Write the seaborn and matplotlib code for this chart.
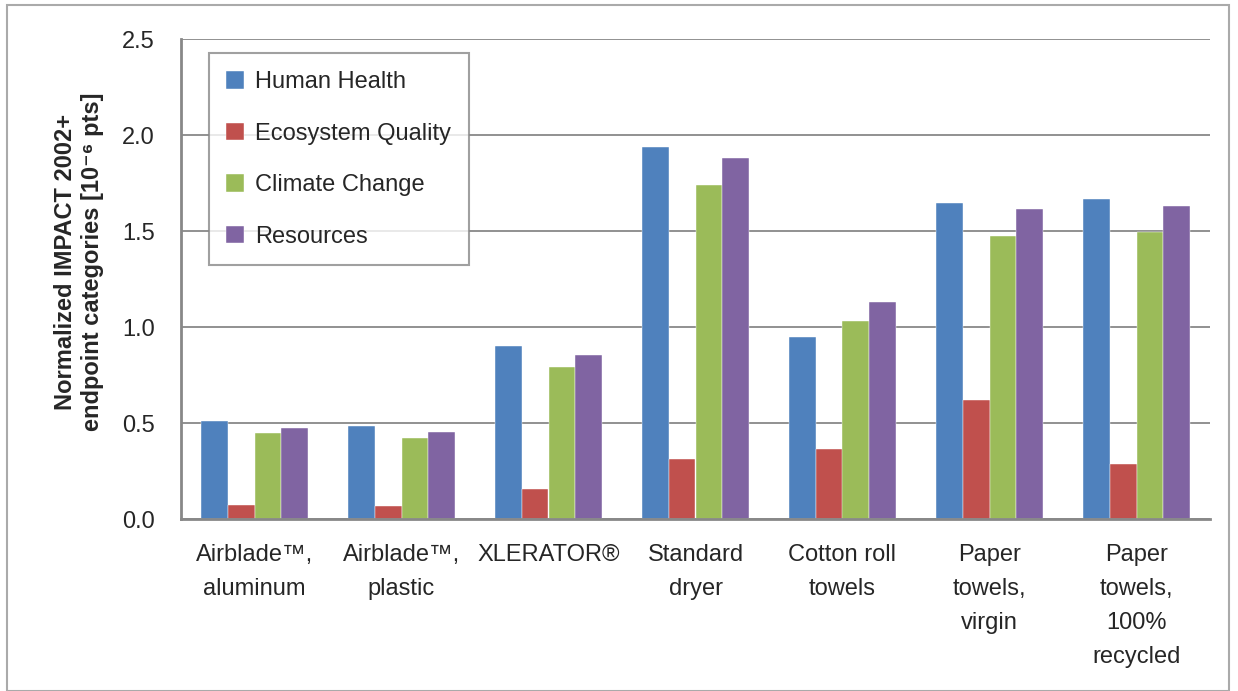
import pandas as pd
import matplotlib.pyplot as plt
import seaborn as sns
from matplotlib.patches import Rectangle

# values
products = ["Airblade\u2122,\naluminum", "Airblade\u2122,\nplastic", "XLERATOR\u00ae",
            "Standard\ndryer", "Cotton roll\ntowels", "Paper\ntowels,\nvirgin",
            "Paper\ntowels,\n100%\nrecycled"]
categories = ["Human Health", "Ecosystem Quality", "Climate Change", "Resources"]
human_health = [0.51, 0.485, 0.90, 1.94, 0.948, 1.645, 1.667]
ecosystem_quality = [0.073, 0.068, 0.156, 0.31, 0.365, 0.62, 0.286]
climate_change = [0.448, 0.42, 0.79, 1.74, 1.03, 1.474, 1.495]
resources = [0.474, 0.453, 0.854, 1.88, 1.13, 1.615, 1.63]
colors = ["#4F81BD", "#C0504D", "#9BBB59", "#8064A2"]

rows = []
for cat, vals in zip(categories, [human_health, ecosystem_quality, climate_change, resources]):
    for prod, v in zip(products, vals):
        rows.append({"product": prod, "category": cat, "value": v})
df = pd.DataFrame(rows)

sns.set_style("white")
plt.rcParams['font.family'] = ['Liberation Sans', 'DejaVu Sans']

fig = plt.figure(figsize=(12.38, 6.91), dpi=100)
ax = fig.add_axes([181 / 1238, 1 - 519 / 691, (1210 - 181) / 1238, (519 - 39) / 691])

sns.barplot(data=df, x="product", y="value", hue="category", order=products,
            hue_order=categories, palette=colors, width=0.73, gap=0,
            saturation=1, edgecolor="white", linewidth=0.3, ax=ax)

ax.set_ylim(0, 2.5)
ax.set_xlim(-0.5, len(products) - 0.5)
ax.set_yticks([0, 0.5, 1.0, 1.5, 2.0, 2.5])
ax.set_yticklabels(["0.0", "0.5", "1.0", "1.5", "2.0", "2.5"], fontsize=17)
ax.yaxis.grid(True, color="#888888", linewidth=1.3)
ax.set_axisbelow(True)
ax.tick_params(axis="y", length=0, pad=19)
ax.tick_params(axis="x", length=0, labelsize=17, pad=18)
for lbl in ax.get_xticklabels():
    lbl.set_linespacing(1.7)
    lbl.set_verticalalignment("top")

# category separators on the x axis
ax.set_xticks([i + 0.5 for i in range(-1, len(products))], minor=True)
ax.tick_params(axis="x", which="minor", direction="in", length=6, width=1.5, color="#888888")

for side in ["top", "right"]:
    ax.spines[side].set_visible(False)
for side in ["left", "bottom"]:
    ax.spines[side].set_color("#888888")
    ax.spines[side].set_linewidth(2)

ax.set_xlabel("")
ax.set_ylabel("Normalized IMPACT 2002+\nendpoint categories [10\u207b\u2076 pts]",
              fontsize=17, fontweight="bold", linespacing=1.2)
ax.yaxis.set_label_coords(-0.075, 0.535)

leg = ax.legend(loc="upper left", bbox_to_anchor=(0.027, 0.97), fontsize=17,
                frameon=True, fancybox=False, edgecolor="#888888",
                handlelength=0.75, handleheight=0.75, handletextpad=0.45,
                labelspacing=1.25, borderpad=0.75, borderaxespad=0)
leg.get_frame().set_linewidth(1.5)

fig.patches.append(Rectangle((7 / 1238, 0), 1222 / 1238, 1 - 5 / 691, transform=fig.transFigure,
                             fill=False, edgecolor="#aaaaaa", linewidth=1.5))

fig.savefig("out.png", dpi=100)
